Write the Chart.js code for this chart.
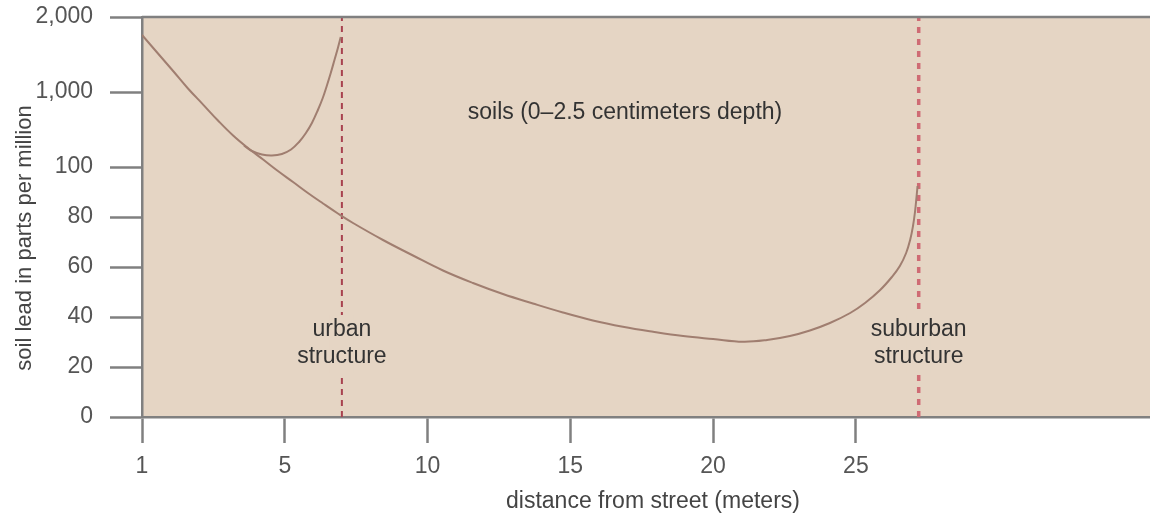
<!DOCTYPE html>
<html lang="en">
<head>
    <meta charset="UTF-8">
    <title>Soil lead vs distance from street</title>
    <script src="https://cdn.jsdelivr.net/npm/chart.js"></script>
    <style>
        body {
            margin: 0;
            background: #ffffff;
            font-family: "Liberation Sans", Arial, sans-serif;
        }
        .chart-box {
            width: 1150px;
            height: 517px;
        }
    </style>
</head>
<body>
    <div class="chart-box">
        <canvas id="leadChart"></canvas>
    </div>

    <script>
        // distance positions (first tick is labelled "1")
        const xTickValues = [0, 5, 10, 15, 20, 25];
        const xTickLabels = ["1", "5", "10", "15", "20", "25"];
        const yTickValues = [0, 20, 40, 60, 80, 100, 1000, 2000];
        const yTickLabels = ["0", "20", "40", "60", "80", "100", "1,000", "2,000"];

        // main curve (ppm)
        const mainX = [0, 0.56, 1.09, 1.61, 2.14, 2.66, 3.19, 3.71, 4.24, 4.76, 5.29, 5.81, 6.34, 6.86,
                       7.39, 8.44, 9.49, 10.54, 11.59, 12.64, 13.69, 14.74, 15.79, 16.84, 17.9, 18.95,
                       20.0, 21.05, 21.89, 22.69, 23.39, 24.09, 24.8, 25.32, 25.85, 26.26, 26.54,
                       26.76, 26.9, 27.0, 27.07, 27.12, 27.16];
        const mainY = [1760, 1513, 1280, 1047, 849, 658, 478, 328, 190, 98.4, 94, 89.6, 85.4, 81.4,
                       77.6, 70.8, 64.6, 58.6, 53.6, 49.2, 45.4, 41.8, 38.6, 36.1, 34.1, 32.4,
                       31.2, 30.1, 30.8, 32.4, 34.6, 37.6, 41.6, 45.6, 50.8, 56, 60.4,
                       65.6, 70.8, 76.4, 82, 87.6, 92.4];

        // branch near the urban structure (ppm)
        const urbanX = [3.57, 3.85, 4.2, 4.55, 4.9, 5.22, 5.5, 5.74, 5.95, 6.16, 6.33, 6.47, 6.61, 6.75, 6.86, 6.96];
        const urbanY = [358, 292, 250, 238, 256, 310, 400, 508, 628, 784, 928, 1080, 1253, 1440, 1587, 1733];

        const urbanStructureX = 7;
        const suburbanStructureX = 27.2;
        const xMax = 35.3;

        // y axis: 0-100 linear, then 100-1000 and 1000-2000 each get one wider step
        const yBreaks = [[0, 0], [100, 5], [1000, 6.5], [2000, 8]];

        function toUnits(v) {
            for (let i = 1; i < yBreaks.length; i++) {
                if (v <= yBreaks[i][0] || i === yBreaks.length - 1) {
                    const [v0, u0] = yBreaks[i - 1];
                    const [v1, u1] = yBreaks[i];
                    return u0 + (v - v0) / (v1 - v0) * (u1 - u0);
                }
            }
        }

        function fromUnits(u) {
            for (let i = 1; i < yBreaks.length; i++) {
                if (u <= yBreaks[i][1] || i === yBreaks.length - 1) {
                    const [v0, u0] = yBreaks[i - 1];
                    const [v1, u1] = yBreaks[i];
                    return v0 + (u - u0) / (u1 - u0) * (v1 - v0);
                }
            }
        }

        class BrokenLinearScale extends Chart.LinearScale {
            static id = 'brokenLinear';
            static defaults = {};
            getPixelForValue(value) {
                return this.getPixelForDecimal(toUnits(value) / 8);
            }
            getValueForPixel(pixel) {
                return fromUnits(this.getDecimalForPixel(pixel) * 8);
            }
        }
        Chart.register(BrokenLinearScale);

        const toPoints = (xs, ys) => xs.map((x, i) => ({ x: x, y: ys[i] }));

        const plotBackground = {
            id: 'plotBackground',
            beforeDraw(chart) {
                const { ctx, chartArea: a } = chart;
                ctx.save();
                ctx.fillStyle = '#e5d5c4';
                ctx.fillRect(a.left, a.top, a.right - a.left, a.bottom - a.top);
                ctx.restore();
            },
            afterDraw(chart) {
                const { ctx, chartArea: a } = chart;
                const xs = chart.scales.x;
                ctx.save();
                // top edge of the plot
                ctx.strokeStyle = '#808080';
                ctx.lineWidth = 2.5;
                ctx.beginPath();
                ctx.moveTo(a.left, a.top);
                ctx.lineTo(a.right, a.top);
                ctx.stroke();

                ctx.font = '23px "Liberation Sans", Arial, sans-serif';
                ctx.textAlign = 'center';
                ctx.textBaseline = 'middle';

                // structure labels, with a patch of background over the dashed line
                [[urbanStructureX, 'urban'], [suburbanStructureX, 'suburban']].forEach(([v, word]) => {
                    const px = xs.getPixelForValue(v);
                    ctx.fillStyle = '#e5d5c4';
                    ctx.fillRect(px - 12, a.bottom - 102, 24, 58);
                    ctx.fillStyle = '#333333';
                    ctx.fillText(word, px, a.bottom - 87);
                    ctx.fillText('structure', px, a.bottom - 60);
                });

                ctx.fillText('soils (0\u20132.5 centimeters depth)', a.left + 483, a.top + 96);

                // axis titles
                ctx.fillStyle = '#444444';
                ctx.fillText('distance from street (meters)', a.left + 511, a.bottom + 85);
                ctx.font = '22px "Liberation Sans", Arial, sans-serif';
                ctx.translate(25, 238);
                ctx.rotate(-Math.PI / 2);
                ctx.fillText('soil lead in parts per million', 0, 0);
                ctx.restore();
            }
        };

        const tickFont = { family: '"Liberation Sans", Arial, sans-serif', size: 23 };
        const curveStyle = { borderColor: '#a07e70', borderWidth: 2, pointRadius: 0, tension: 0.4 };

        new Chart(document.getElementById('leadChart'), {
            type: 'line',
            data: {
                datasets: [
                    Object.assign({ label: 'soil lead', data: toPoints(mainX, mainY) }, curveStyle),
                    Object.assign({ label: 'soil lead near urban structure', data: toPoints(urbanX, urbanY) }, curveStyle),
                    {
                        label: 'urban structure',
                        data: [{ x: urbanStructureX, y: 0 }, { x: urbanStructureX, y: 2000 }],
                        borderColor: '#a8424f',
                        borderWidth: 2,
                        borderDash: [6, 5],
                        pointRadius: 0
                    },
                    {
                        label: 'suburban structure',
                        data: [{ x: suburbanStructureX, y: 0 }, { x: suburbanStructureX, y: 2000 }],
                        borderColor: '#cf6b74',
                        borderWidth: 3.5,
                        borderDash: [6, 6],
                        pointRadius: 0
                    }
                ]
            },
            options: {
                responsive: true,
                maintainAspectRatio: false,
                animation: false,
                layout: { padding: { top: 17, left: 0, right: 0, bottom: 0 } },
                plugins: {
                    legend: { display: false },
                    tooltip: { enabled: false }
                },
                scales: {
                    x: {
                        type: 'linear',
                        min: 0,
                        max: xMax,
                        afterBuildTicks: (scale) => {
                            scale.ticks = xTickValues.map(v => ({ value: v }));
                        },
                        afterFit: (scale) => { scale.height = 100; },
                        ticks: {
                            autoSkip: false,
                            maxRotation: 0,
                            padding: 10,
                            color: '#555555',
                            font: tickFont,
                            callback: (value, index) => xTickLabels[index]
                        },
                        grid: {
                            drawOnChartArea: false,
                            tickLength: 26,
                            tickWidth: 2.5,
                            tickColor: '#808080'
                        },
                        border: { color: '#808080', width: 2.5 }
                    },
                    y: {
                        type: 'brokenLinear',
                        min: 0,
                        max: 2000,
                        afterBuildTicks: (scale) => {
                            scale.ticks = yTickValues.map(v => ({ value: v }));
                        },
                        afterFit: (scale) => {
                            scale.width = 142;
                            scale.paddingTop = 0;
                            scale.paddingBottom = 0;
                        },
                        ticks: {
                            autoSkip: false,
                            padding: 17,
                            color: '#555555',
                            font: tickFont,
                            callback: (value, index) => yTickLabels[index]
                        },
                        grid: {
                            drawOnChartArea: false,
                            tickLength: 32,
                            tickWidth: 2.5,
                            tickColor: '#808080'
                        },
                        border: { color: '#808080', width: 2.5 }
                    }
                }
            },
            plugins: [plotBackground]
        });
    </script>
</body>
</html>
